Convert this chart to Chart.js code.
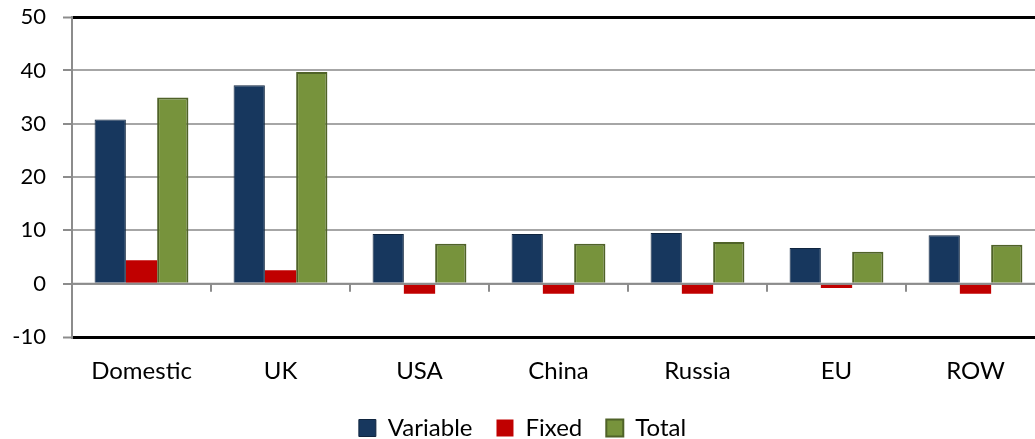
<!DOCTYPE html>
<html>
<head>
<meta charset="utf-8">
<script src="https://cdn.jsdelivr.net/npm/chart.js@4"></script>
<style>
  html, body { margin: 0; padding: 0; background: #fff; overflow: hidden; }
  #wrap { width: 1045px; height: 439px; }
</style>
</head>
<body>
<div id="wrap"><canvas id="chart"></canvas></div>
<script>
// categories and series
const categories = ['Domestic', 'UK', 'USA', 'China', 'Russia', 'EU', 'ROW'];
const variable = [30.8, 37.2, 9.3, 9.3, 9.5, 6.7, 9.1];
const fixed = [4.4, 2.5, -1.9, -1.9, -1.9, -0.8, -1.9];
const total = [34.9, 39.7, 7.5, 7.5, 7.8, 6.0, 7.3];
const yTicks = [-10, 0, 10, 20, 30, 40, 50];

const FONT = 'Lato, "Open Sans", sans-serif';

// zero line with tick marks between the categories
const zeroAxis = {
  id: 'zeroAxis',
  afterDatasetsDraw(chart) {
    const ctx = chart.ctx;
    const x = chart.scales.x, y = chart.scales.y;
    const y0 = y.getPixelForValue(0);
    ctx.save();
    ctx.strokeStyle = '#8c8c8c';
    ctx.lineWidth = 2;
    ctx.beginPath();
    ctx.moveTo(chart.chartArea.left, y0);
    ctx.lineTo(chart.chartArea.right, y0);
    for (let i = 0; i < categories.length - 1; i++) {
      const bx = Math.round((x.getPixelForValue(i) + x.getPixelForValue(i + 1)) / 2);
      ctx.moveTo(bx, y0);
      ctx.lineTo(bx, y0 + 8);
    }
    ctx.stroke();
    ctx.restore();
  }
};

new Chart(document.getElementById('chart'), {
  type: 'bar',
  data: {
    labels: categories,
    datasets: [
      { label: 'Variable', data: variable, backgroundColor: '#17375E', borderColor: '#10253F', borderWidth: 1 },
      { label: 'Fixed', data: fixed, backgroundColor: '#C00000', borderColor: '#C00000', borderWidth: 0 },
      { label: 'Total', data: total, backgroundColor: '#77933C', borderColor: '#4F6228', borderWidth: 2 }
    ]
  },
  options: {
    responsive: true,
    maintainAspectRatio: false,
    animation: false,
    layout: { padding: { top: 0, right: 0, left: 0, bottom: -11 } },
    datasets: { bar: { categoryPercentage: 0.675, barPercentage: 1 } },
    scales: {
      x: {
        grid: { display: false },
        border: { display: false },
        ticks: { color: '#000', font: { family: FONT, size: 24 }, padding: 12 },
        afterFit(scale) { scale.height = 55; }
      },
      y: {
        min: -10,
        max: 50,
        afterBuildTicks(scale) { scale.ticks = yTicks.map(v => ({ value: v })); },
        afterFit(scale) { scale.width = 72; },
        border: { color: '#8c8c8c', width: 2 },
        grid: {
          color: c => (c.tick && (c.tick.value === 50 || c.tick.value === -10)) ? '#000' : '#a6a6a6',
          lineWidth: c => (c.tick && (c.tick.value === 50 || c.tick.value === -10)) ? 3 : 2,
          tickColor: '#8c8c8c',
          tickWidth: 2,
          tickLength: 9
        },
        ticks: { color: '#000', font: { family: FONT, size: 22, lineHeight: 0.01 }, padding: 17 }
      }
    },
    plugins: {
      legend: {
        position: 'bottom',
        labels: {
          color: '#000',
          font: { family: FONT, size: 24 },
          boxWidth: 17,
          boxHeight: 17,
          padding: 24
        }
      },
      tooltip: { enabled: false }
    }
  },
  plugins: [zeroAxis]
});
</script>
</body>
</html>
